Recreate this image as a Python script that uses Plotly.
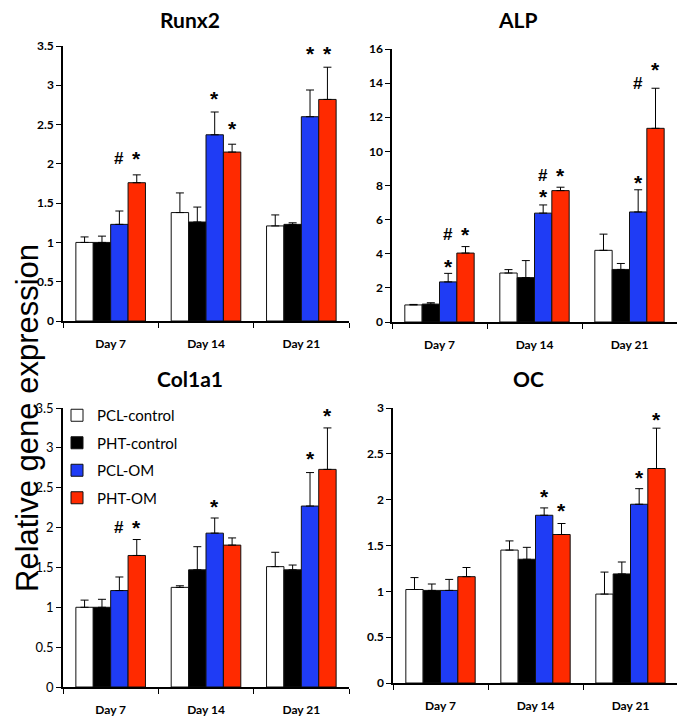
import plotly.graph_objects as go
from plotly.subplots import make_subplots

days = ["Day 7", "Day 14", "Day 21"]
groups = ["PCL-control", "PHT-control", "PCL-OM", "PHT-OM"]
colors = ["#ffffff", "#000000", "#1f3cf5", "#ff2a00"]

# mean values, one list per group (Day 7, Day 14, Day 21)
runx2_mean = [[1.0, 1.38, 1.21], [1.0, 1.26, 1.23], [1.23, 2.37, 2.60], [1.76, 2.15, 2.82]]
runx2_err = [[0.07, 0.25, 0.14], [0.08, 0.19, 0.02], [0.17, 0.29, 0.34], [0.10, 0.10, 0.41]]

alp_mean = [[1.0, 2.87, 4.2], [1.05, 2.6, 3.08], [2.35, 6.38, 6.45], [4.04, 7.7, 11.35]]
alp_err = [[0.03, 0.2, 0.95], [0.08, 1.0, 0.35], [0.5, 0.48, 1.3], [0.38, 0.2, 2.35]]

col1a1_mean = [[1.0, 1.25, 1.51], [1.0, 1.47, 1.47], [1.21, 1.93, 2.27], [1.65, 1.78, 2.73]]
col1a1_err = [[0.09, 0.02, 0.18], [0.1, 0.29, 0.06], [0.17, 0.19, 0.42], [0.2, 0.09, 0.52]]

oc_mean = [[1.02, 1.45, 0.97], [1.01, 1.35, 1.19], [1.01, 1.83, 1.95], [1.16, 1.62, 2.34]]
oc_err = [[0.13, 0.1, 0.24], [0.07, 0.13, 0.13], [0.12, 0.08, 0.17], [0.1, 0.12, 0.44]]

# significance marks: (day index, group index, symbol, y)
runx2_sig = [(0, 2, "#", 2.07), (0, 3, "*", 2.07), (1, 2, "*", 2.83), (1, 3, "*", 2.45),
             (2, 2, "*", 3.4), (2, 3, "*", 3.4)]
alp_sig = [(0, 2, "*", 3.26), (0, 2, "#", 5.1), (0, 3, "*", 5.1), (1, 2, "*", 7.35),
           (1, 2, "#", 8.6), (1, 3, "*", 8.6), (2, 2, "*", 8.2), (2, 2, "#", 14.0),
           (2, 3, "*", 14.8)]
col1a1_sig = [(0, 2, "#", 2.0), (0, 3, "*", 2.0), (1, 2, "*", 2.26), (2, 2, "*", 2.87),
              (2, 3, "*", 3.41)]
oc_sig = [(1, 2, "*", 2.03), (1, 3, "*", 1.88), (2, 2, "*", 2.24), (2, 3, "*", 2.87)]

W, H = 685, 721
OFF = 8  # page margin of the html body


def px(p):
    return (p - OFF) / W


def py(p):
    return 1 - (p - OFF) / H


# name, means, errors, marks, ymax, dtick, row, col, x px span, y px span, title px
panels = [
    ("Runx2", runx2_mean, runx2_err, runx2_sig, 3.5, 0.5, 1, 1, (63, 349), (321, 46), (190, 20)),
    ("ALP", alp_mean, alp_err, alp_sig, 16, 2, 1, 2, (392, 677), (322, 49), (518, 20)),
    ("Col1a1", col1a1_mean, col1a1_err, col1a1_sig, 3.5, 0.5, 2, 1, (63, 349), (687, 408), (190, 378)),
    ("OC", oc_mean, oc_err, oc_sig, 3, 0.5, 2, 2, (393, 678), (683, 408), (528, 378)),
]

FONT = "Lato"
BARGAP = 0.27

fig = make_subplots(rows=2, cols=2)

for name, mean, err, sig, ymax, dt, r, c, xs, ys, tp in panels:
    for g in range(4):
        fig.add_trace(go.Bar(
            x=days, y=mean[g], name=groups[g],
            marker=dict(color=colors[g], line=dict(color="#111111", width=1)),
            error_y=dict(type="data", array=err[g], arrayminus=[0, 0, 0], symmetric=False,
                         color="black", thickness=1, width=4),
            legendgroup=groups[g], showlegend=(name == "Col1a1"),
        ), row=r, col=c)

    bold_ticks = name != "Col1a1"
    fig.update_yaxes(range=[0, ymax], dtick=dt, showline=True, linecolor="black", linewidth=1.5,
                     ticks="outside", ticklen=5, tickcolor="black", showgrid=False, zeroline=False,
                     automargin=False,
                     tickfont=dict(family=FONT, size=12 if bold_ticks else 13, color="black",
                                   weight="bold" if bold_ticks else "normal"),
                     domain=[py(ys[0]), py(ys[1])], row=r, col=c)
    fig.update_xaxes(showline=True, linecolor="black", linewidth=1.5, ticks="outside",
                     tickson="boundaries", ticklen=5, tickcolor="black", showgrid=False,
                     ticklabelstandoff=11, automargin=False,
                     tickfont=dict(family=FONT, size=12, color="black", weight="bold"),
                     domain=[px(xs[0]), px(xs[1])], row=r, col=c)

    fig.add_annotation(text=name, x=px(tp[0]), y=py(tp[1]), xref="paper", yref="paper",
                       showarrow=False, xanchor="center", yanchor="middle",
                       font=dict(family=FONT, size=21, color="black", weight="bold"))

    # pixel width of one bar, used to place marks over the right bar
    bar_px = (xs[1] - xs[0]) / 3 * (1 - BARGAP) / 4
    idx = (r - 1) * 2 + c
    xr = "x" if idx == 1 else f"x{idx}"
    yr = "y" if idx == 1 else f"y{idx}"
    for d, g, sym, yv in sig:
        fig.add_annotation(text=sym, x=days[d], y=yv, xref=xr, yref=yr, showarrow=False,
                           xshift=(g - 1.5) * bar_px, yanchor="middle",
                           font=dict(family="Liberation Sans", size=21 if sym == "*" else 17,
                                     color="black", weight="bold"))

fig.add_annotation(text="Relative gene expression", x=px(27), y=py(418), xref="paper",
                   yref="paper", xanchor="center", yanchor="middle",
                   textangle=-90, showarrow=False,
                   font=dict(family="Liberation Sans", size=31, color="black"))

fig.update_layout(
    width=W, height=H,
    margin=dict(l=0, r=0, t=0, b=0),
    paper_bgcolor="white", plot_bgcolor="white",
    barmode="group", bargap=BARGAP, bargroupgap=0,
    legend=dict(x=px(57), y=py(399), xanchor="left", yanchor="top", bgcolor="rgba(0,0,0,0)",
                font=dict(family=FONT, size=15, color="black"), itemwidth=30,
                tracegroupgap=5, traceorder="grouped"),
)

fig.write_html("out.html")
